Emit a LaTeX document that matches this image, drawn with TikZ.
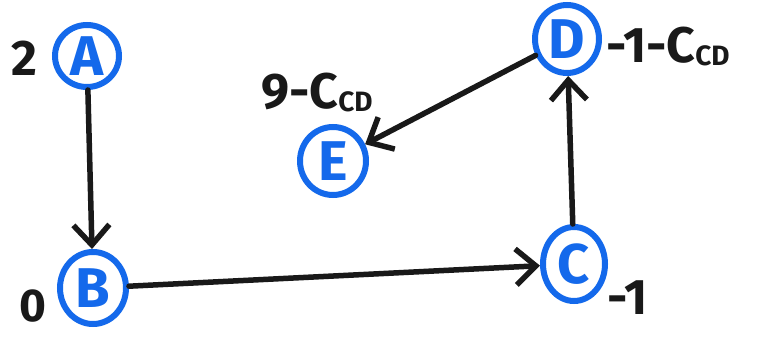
\documentclass[tikz,border=0pt]{standalone}
\usepackage{fontspec}
\setmainfont{Fira Sans}
\usetikzlibrary{shapes.geometric,arrows.meta}
\definecolor{ink}{RGB}{25,25,25}
\definecolor{marker}{RGB}{20,105,235}
\tikzset{
  vertex/.style={ellipse, draw=marker, line width=6pt, text=marker,
    inner sep=0pt, font=\fontsize{56}{56}\selectfont\bfseries},
  lbl/.style={text=ink, inner sep=0pt, font=\fontsize{50}{50}\selectfont\bfseries},
  edge/.style={draw=ink, line width=5.5pt, line cap=round,
    -{Straight Barb[length=20pt,width=36pt,line width=5.5pt]}}
}
\newcommand{\sub}[1]{\raisebox{-3pt}{\fontsize{28}{28}\selectfont #1}}
\begin{document}
\begin{tikzpicture}[x=1pt,y=-1pt]
  \useasboundingbox[fill=white] (0,0) rectangle (768,339);
  % vertices
  \node[vertex, minimum width=64pt, minimum height=62pt] (A) at (87,56) {A};
  \node[vertex, minimum width=66pt, minimum height=72pt] (B) at (93,288) {B};
  \node[vertex, minimum width=62pt, minimum height=74pt] (C) at (574,264) {C};
  \node[vertex, minimum width=64pt, minimum height=68pt] (D) at (567,39) {D};
  \node[vertex, minimum width=66pt, minimum height=68pt] (E) at (333,161) {E};
  % labels
  \node[lbl] (la) at (24,58) {2};
  \node[lbl, font=\fontsize{46}{46}\selectfont\bfseries] (lb) at (33,306) {0};
  \node[lbl] (lc) at (628,298) {-1};
  \node[lbl, anchor=west] (ld) at (606,46) {-1-C\sub{CD}};
  \node[lbl] (le) at (317,92) {9-C\sub{CD}};
  % connectors
  \draw[edge] (A) -- (B);
  \draw[edge] (B) -- (C);
  \draw[edge] (C) -- (D);
  \draw[edge] (D) -- (E);
\end{tikzpicture}
\end{document}
